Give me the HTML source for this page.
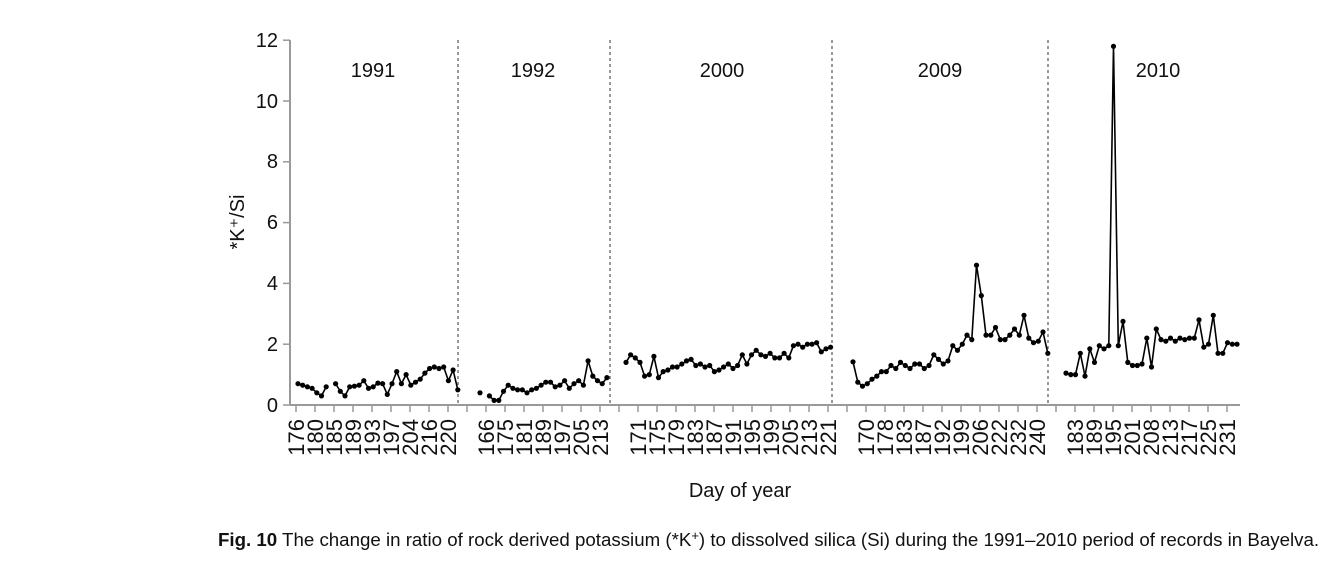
<!DOCTYPE html>
<html><head><meta charset="utf-8"><style>
body{margin:0;background:#fff;width:1342px;height:568px;overflow:hidden;font-family:"Liberation Sans",sans-serif}
</style></head><body>
<svg id="s" width="1342" height="568" xmlns="http://www.w3.org/2000/svg" font-family="Liberation Sans, sans-serif">
<line x1="290" y1="40" x2="290" y2="405" stroke="#999" stroke-width="2"/>
<line x1="290" y1="405" x2="1240" y2="405" stroke="#999" stroke-width="2"/>
<g font-size="20" text-anchor="end" fill="#111">
<text x="278" y="412">0</text><text x="278" y="351">2</text><text x="278" y="290">4</text><text x="278" y="229">6</text><text x="278" y="168">8</text><text x="278" y="108">10</text><text x="278" y="47">12</text>
</g>
<text transform="translate(244,222) rotate(-90)" font-size="20" text-anchor="middle" fill="#111">*K⁺/Si</text>
<g font-size="20" text-anchor="middle" fill="#111">
<text x="373" y="77">1991</text><text x="533" y="77">1992</text><text x="722" y="77">2000</text><text x="940" y="77">2009</text><text x="1158" y="77">2010</text>
</g>
<g stroke="#555" stroke-width="1.2" stroke-dasharray="3,3">
<line x1="458" y1="40" x2="458" y2="405"/><line x1="610" y1="40" x2="610" y2="405"/><line x1="832" y1="40" x2="832" y2="405"/><line x1="1048" y1="40" x2="1048" y2="405"/>
</g>
<g id="ticks" stroke="#999" stroke-width="1.5"></g>
<g id="lab" font-size="22" fill="#111"></g>
<g id="data"></g>
<text x="740" y="497" font-size="20" text-anchor="middle" fill="#111">Day of year</text>
<text x="218" y="546" font-size="18.7" fill="#111"><tspan font-weight="bold">Fig. 10</tspan> The change in ratio of rock derived potassium (*K<tspan dy="-6" font-size="13">+</tspan><tspan dy="6">) to dissolved silica (Si) during the 1991–2010 period of records in Bayelva.</tspan></text>
</svg>
<script>
var NS="http://www.w3.org/2000/svg";
function el(p,t,a,txt){var e=document.createElementNS(NS,t);for(var k in a)e.setAttribute(k,a[k]);if(txt)e.textContent=txt;document.getElementById(p).appendChild(e);}
[0,2,4,6,8,10,12].forEach(function(v){var y=405-30.4*v;el("ticks","line",{x1:283,y1:y,x2:290,y2:y});});
var labs={0:"176",1:"180",2:"185",3:"189",4:"193",5:"197",6:"204",7:"216",8:"220",
10:"166",11:"175",12:"181",13:"189",14:"197",15:"205",16:"213",
18:"171",19:"175",20:"179",21:"183",22:"187",23:"191",24:"195",25:"199",26:"205",27:"213",28:"221",
30:"170",31:"178",32:"183",33:"187",34:"192",35:"199",36:"206",37:"222",38:"232",39:"240",
41:"183",42:"189",43:"195",44:"201",45:"208",46:"213",47:"217",48:"225",49:"231"};
for(var i=0;i<50;i++){var x=296+19*i;el("ticks","line",{x1:x,y1:405,x2:x,y2:412});
if(labs[i])el("lab","text",{transform:"translate("+(x+8)+",419) rotate(-90)","text-anchor":"end"},labs[i]);}
var series=[
[298,4.7,[0.7,0.65,0.6,0.55,0.4,0.3,0.6,null,0.7,0.45,0.3,0.6,0.62,0.65,0.8,0.55,0.6,0.72,0.7,0.35,0.7,1.1,0.7,1.0,0.65,0.75,0.85,1.05,1.2,1.25,1.2,1.25,0.8,1.15,0.5]],
[480,4.7,[0.4,null,0.3,0.15,0.15,0.45,0.65,0.55,0.5,0.5,0.4,0.5,0.55,0.65,0.75,0.75,0.6,0.65,0.8,0.55,0.7,0.8,0.65,1.45,0.95,0.8,0.7,0.9]],
[626,4.65,[1.4,1.65,1.55,1.4,0.95,1.0,1.6,0.9,1.1,1.15,1.25,1.25,1.35,1.45,1.5,1.3,1.35,1.25,1.3,1.1,1.15,1.25,1.35,1.2,1.3,1.65,1.35,1.65,1.8,1.65,1.6,1.7,1.55,1.55,1.7,1.55,1.95,2.0,1.9,2.0,2.0,2.05,1.75,1.85,1.9]],
[853,4.75,[1.42,0.75,0.62,0.7,0.85,0.95,1.1,1.1,1.3,1.2,1.4,1.3,1.2,1.35,1.35,1.2,1.3,1.65,1.5,1.35,1.45,1.95,1.8,2.0,2.3,2.15,4.6,3.6,2.3,2.3,2.55,2.15,2.15,2.3,2.5,2.3,2.95,2.2,2.05,2.1,2.4,1.7]],
[1066,4.75,[1.05,1.0,1.0,1.7,0.95,1.85,1.4,1.95,1.85,1.95,11.8,1.95,2.75,1.4,1.3,1.3,1.35,2.2,1.25,2.5,2.15,2.1,2.2,2.1,2.2,2.15,2.2,2.2,2.8,1.9,2.0,2.95,1.7,1.7,2.05,2.0,2.0]]];
series.forEach(function(s){var pts=[],d="";s[2].forEach(function(v,i){if(v===null){d+=pts.length?"M"+pts.join("L"):"";pts=[];return;}
var x=(s[0]+s[1]*i).toFixed(1),y=(405-30.4*v).toFixed(1);pts.push(x+","+y);el("data","circle",{cx:x,cy:y,r:2.6,fill:"#000"});});
d+="M"+pts.join("L");el("data","path",{d:d,fill:"none",stroke:"#000","stroke-width":1.6});});
</script>
</body></html>
